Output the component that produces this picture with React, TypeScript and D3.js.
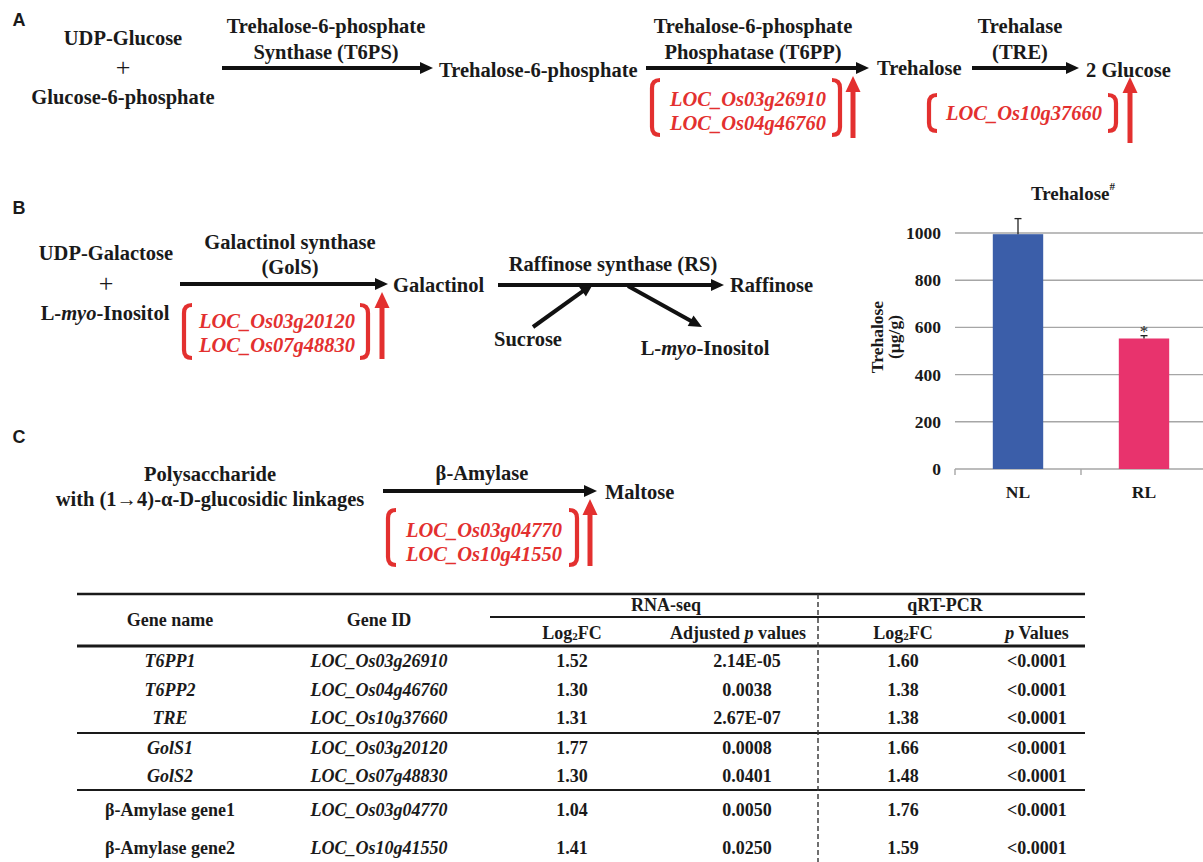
import React from "react";
import * as d3 from "d3";

// ---------- DATA ----------
const substratesA = ["UDP-Glucose", "+", "Glucose-6-phosphate"];
const enzymeT6PS = ["Trehalose-6-phosphate", "Synthase (T6PS)"];
const enzymeT6PP = ["Trehalose-6-phosphate", "Phosphatase (T6PP)"];
const enzymeTRE = ["Trehalase", "(TRE)"];
const productsA = ["Trehalose-6-phosphate", "Trehalose", "2 Glucose"];
const genesT6PP = ["LOC_Os03g26910", "LOC_Os04g46760"];
const genesTRE = ["LOC_Os10g37660"];

const substratesB = ["UDP-Galactose", "+"];
const enzymeGolS = ["Galactinol synthase", "(GolS)"];
const genesGolS = ["LOC_Os03g20120", "LOC_Os07g48830"];
const enzymeRS = "Raffinose synthase (RS)";

const substratesC = ["Polysaccharide", "with (1→4)-α-D-glucosidic linkages"];
const enzymeBAM = "β-Amylase";
const genesBAM = ["LOC_Os03g04770", "LOC_Os10g41550"];

const barCategories = ["NL", "RL"];
const barValues = [995, 553];
const barErrors = [66, 12];
const barColors = ["#3b5ea9", "#e8336d"];
const yTickValues = [0, 200, 400, 600, 800, 1000];

const geneNames = ["T6PP1", "T6PP2", "TRE", "GolS1", "GolS2", "β-Amylase gene1", "β-Amylase gene2"];
const geneItalic = [true, true, true, true, true, false, false];
const geneIds = ["LOC_Os03g26910", "LOC_Os04g46760", "LOC_Os10g37660", "LOC_Os03g20120", "LOC_Os07g48830", "LOC_Os03g04770", "LOC_Os10g41550"];
const rnaLog2FC = ["1.52", "1.30", "1.31", "1.77", "1.30", "1.04", "1.41"];
const rnaAdjP = ["2.14E-05", "0.0038", "2.67E-07", "0.0008", "0.0401", "0.0050", "0.0250"];
const qpcrLog2FC = ["1.60", "1.38", "1.38", "1.66", "1.48", "1.76", "1.59"];
const qpcrP = ["<0.0001", "<0.0001", "<0.0001", "<0.0001", "<0.0001", "<0.0001", "<0.0001"];

// ---------- STYLE / LAYOUT ----------
const W = 1203;
const H = 862;
const RED = "#e3302f";
const SERIF = "'Liberation Serif','Times New Roman',serif";
const SANS = "'Liberation Sans',Arial,sans-serif";
const FS = 20.5;
const TFS = 18;

function T(props: any) {
  const { x, y, children, anchor = "middle", size = FS, italic = false, fill = "#1a1a1a", family = SERIF, weight = "bold" } = props;
  return (
    <text x={x} y={y} textAnchor={anchor} dominantBaseline="central" fontFamily={family}
      fontSize={size} fontWeight={weight} fontStyle={italic ? "italic" : "normal"} fill={fill}>
      {children}
    </text>
  );
}

function Arrow({ x1, y1, x2, y2, color = "#111", width = 4, head = 13, headW = 12 }: any) {
  const a = Math.atan2(y2 - y1, x2 - x1);
  const bx = x2 - head * Math.cos(a);
  const by = y2 - head * Math.sin(a);
  const px = -Math.sin(a) * headW / 2;
  const py = Math.cos(a) * headW / 2;
  const pts: [number, number][] = [[x2, y2], [bx + px, by + py], [bx - px, by - py]];
  const line = d3.line();
  return (
    <g>
      <line x1={x1} y1={y1} x2={bx + Math.cos(a)} y2={by + Math.sin(a)} stroke={color} strokeWidth={width} />
      <path d={line(pts) + "Z"} fill={color} />
    </g>
  );
}

function Bracket({ x, y0, y1, side, w = 8 }: any) {
  const d = d3.path();
  const s = side === "left" ? 1 : -1;
  d.moveTo(x + s * w, y0);
  d.quadraticCurveTo(x, y0, x, y0 + w);
  d.lineTo(x, y1 - w);
  d.quadraticCurveTo(x, y1, x + s * w, y1);
  return <path d={d.toString()} fill="none" stroke={RED} strokeWidth={4.2} />;
}

function GeneBox({ genes, cx, y0, lineGap, bl, br, top, bottom, ax, atop, abottom }: any) {
  return (
    <g>
      <Bracket x={bl} y0={top} y1={bottom} side="left" />
      <Bracket x={br} y0={top} y1={bottom} side="right" />
      {genes.map((g: string, i: number) => (
        <T key={g} x={cx} y={y0 + i * lineGap} italic fill={RED}>{g}</T>
      ))}
      <Arrow x1={ax} y1={abottom} x2={ax} y2={atop} color={RED} width={5} head={16} headW={15} />
    </g>
  );
}

function BarChart() {
  const y = d3.scaleLinear().domain([0, 1000]).range([469, 233]);
  const x = d3.scaleBand().domain(barCategories).range([955, 1207]).paddingInner(0.6).paddingOuter(0.3);
  const step = x.step();
  const grid = "#a6a6a6";
  return (
    <g>
      {yTickValues.map((t) => (
        <g key={t}>
          <line x1={955} x2={W} y1={y(t)} y2={y(t)} stroke={grid} strokeWidth={1.4} />
          <T x={941} y={y(t)} anchor="end" size={17.5}>{t}</T>
        </g>
      ))}
      {barCategories.map((c, i) => (
        <line key={"tk" + c} x1={955 + i * step} x2={955 + i * step} y1={y(0)} y2={y(0) + 6} stroke={grid} strokeWidth={1.4} />
      ))}
      {barCategories.map((c, i) => {
        const cx = (x(c) as number) + x.bandwidth() / 2;
        const top = y(barValues[i]);
        const et = y(barValues[i] + barErrors[i]);
        return (
          <g key={c}>
            <rect x={x(c)} y={top} width={x.bandwidth()} height={y(0) - top} fill={barColors[i]} />
            <line x1={cx} x2={cx} y1={top} y2={et} stroke="#222" strokeWidth={1.3} />
            <line x1={cx - 3.5} x2={cx + 3.5} y1={et} y2={et} stroke="#222" strokeWidth={1.3} />
            <T x={cx} y={492} size={17.5}>{c}</T>
          </g>
        );
      })}
      <text x={(x("RL") as number) + x.bandwidth() / 2} y={y(barValues[1] + barErrors[1]) + 1}
        textAnchor="middle" fontFamily={SERIF} fontSize={17} fill="#222">*</text>
      <text x={1073} y={193} textAnchor="middle" dominantBaseline="central" fontFamily={SERIF} fontWeight="bold" fontSize={19} fill="#1a1a1a">
        Trehalose<tspan fontSize={11} dy={-7}>#</tspan>
      </text>
      <g transform="translate(877,337) rotate(-90)">
        <T x={0} y={0} size={17.5}>Trehalose</T>
      </g>
      <g transform="translate(894,337) rotate(-90)">
        <T x={0} y={0} size={17.5}>(µg/g)</T>
      </g>
    </g>
  );
}

function Log2FC({ x, y }: any) {
  return (
    <text x={x} y={y} textAnchor="middle" dominantBaseline="central" fontFamily={SERIF} fontWeight="bold" fontSize={TFS} fill="#1a1a1a">
      Log<tspan fontSize={11} dy={3}>2</tspan><tspan dy={-3}>FC</tspan>
    </text>
  );
}

function Table() {
  const L = 77, R = 1085;
  const rowY = [661, 690, 718, 748, 776, 810, 848];
  const cols = { name: 170, id: 379, rfc: 572, rp: 747, qfc: 903, qp: 1037 };
  const ink = "#1a1a1a";
  return (
    <g>
      <line x1={L} x2={R} y1={594} y2={594} stroke={ink} strokeWidth={2.4} />
      <line x1={490} x2={R} y1={617} y2={617} stroke={ink} strokeWidth={2.2} />
      <line x1={L} x2={R} y1={646} y2={646} stroke={ink} strokeWidth={2.8} />
      <line x1={L} x2={R} y1={733} y2={733} stroke={ink} strokeWidth={2.2} />
      <line x1={L} x2={R} y1={790} y2={790} stroke={ink} strokeWidth={2.2} />
      <line x1={818} x2={818} y1={594} y2={H} stroke="#333" strokeWidth={1.4} strokeDasharray="5,3" />
      <T x={cols.name} y={620} size={TFS}>Gene name</T>
      <T x={cols.id} y={620} size={TFS}>Gene ID</T>
      <T x={666} y={605} size={TFS}>RNA-seq</T>
      <T x={945} y={605} size={TFS}>qRT-PCR</T>
      <Log2FC x={cols.rfc} y={633} />
      <text x={738} y={633} textAnchor="middle" dominantBaseline="central" fontFamily={SERIF} fontWeight="bold" fontSize={TFS} fill={ink}>
        Adjusted <tspan fontStyle="italic">p</tspan> values
      </text>
      <Log2FC x={cols.qfc} y={633} />
      <text x={cols.qp} y={633} textAnchor="middle" dominantBaseline="central" fontFamily={SERIF} fontWeight="bold" fontSize={TFS} fill={ink}>
        <tspan fontStyle="italic">p</tspan> Values
      </text>
      {geneNames.map((g, i) => (
        <g key={g}>
          <T x={cols.name} y={rowY[i]} size={TFS} italic={geneItalic[i]}>{g}</T>
          <T x={cols.id} y={rowY[i]} size={TFS} italic>{geneIds[i]}</T>
          <T x={cols.rfc} y={rowY[i]} size={TFS}>{rnaLog2FC[i]}</T>
          <T x={cols.rp} y={rowY[i]} size={TFS}>{rnaAdjP[i]}</T>
          <T x={cols.qfc} y={rowY[i]} size={TFS}>{qpcrLog2FC[i]}</T>
          <T x={cols.qp} y={rowY[i]} size={TFS}>{qpcrP[i]}</T>
        </g>
      ))}
    </g>
  );
}

export default function App() {
  return (
    <svg width={W} height={H} viewBox={`0 0 ${W} ${H}`} style={{ position: "absolute", left: 0, top: 0, background: "#fff" }}>
      <rect width={W} height={H} fill="#fff" />
      {/* Panel A */}
      <T x={19} y={20} family={SANS} size={18} anchor="middle">A</T>
      {substratesA.map((s, i) => (
        <T key={s} x={123} y={38 + i * 29.5} size={s === "+" ? 26 : FS} weight={s === "+" ? "normal" : "bold"}>{s}</T>
      ))}
      <Arrow x1={222} y1={68} x2={433} y2={68} />
      {enzymeT6PS.map((s, i) => <T key={s} x={326} y={26 + i * 26} >{s}</T>)}
      <T x={439} y={70} anchor="start">{productsA[0]}</T>
      <Arrow x1={646} y1={68} x2={869} y2={68} />
      {enzymeT6PP.map((s, i) => <T key={s + i} x={753} y={26 + i * 26}>{s}</T>)}
      <GeneBox genes={genesT6PP} cx={748} y0={99} lineGap={24} bl={652} br={840} top={80} bottom={135} ax={853} atop={76} abottom={138} />
      <T x={877} y={68} anchor="start">{productsA[1]}</T>
      <Arrow x1={972} y1={68} x2={1079} y2={68} />
      {enzymeTRE.map((s, i) => <T key={s} x={1020} y={26 + i * 26}>{s}</T>)}
      <T x={1086} y={70} anchor="start">{productsA[2]}</T>
      <GeneBox genes={genesTRE} cx={1024} y0={113} lineGap={24} bl={929} br={1116} top={95} bottom={131} ax={1130} atop={77} abottom={143} />

      {/* Panel B */}
      <T x={19} y={208} family={SANS} size={18}>B</T>
      {substratesB.map((s, i) => (
        <T key={s} x={106} y={253 + i * 30} size={s === "+" ? 26 : FS} weight={s === "+" ? "normal" : "bold"}>{s}</T>
      ))}
      <text x={105} y={313} textAnchor="middle" dominantBaseline="central" fontFamily={SERIF} fontWeight="bold" fontSize={FS} fill="#1a1a1a">
        L-<tspan fontStyle="italic">myo</tspan>-Inositol
      </text>
      <Arrow x1={180} y1={284} x2={388} y2={284} />
      {enzymeGolS.map((s, i) => <T key={s} x={290} y={242 + i * 25}>{s}</T>)}
      <T x={393} y={285} anchor="start">Galactinol</T>
      <GeneBox genes={genesGolS} cx={277} y0={321} lineGap={24} bl={184} br={368} top={305} bottom={358} ax={382} atop={292} abottom={359} />
      <Arrow x1={498} y1={285} x2={724} y2={285} />
      <T x={613} y={264}>{enzymeRS}</T>
      <T x={730} y={285} anchor="start">Raffinose</T>
      <Arrow x1={533} y1={327} x2={593} y2={284} />
      <T x={528} y={339}>Sucrose</T>
      <Arrow x1={628} y1={286} x2={702} y2={327} />
      <text x={705} y={348} textAnchor="middle" dominantBaseline="central" fontFamily={SERIF} fontWeight="bold" fontSize={FS} fill="#1a1a1a">
        L-<tspan fontStyle="italic">myo</tspan>-Inositol
      </text>

      <BarChart />

      {/* Panel C */}
      <T x={19} y={437} family={SANS} size={18}>C</T>
      {substratesC.map((s, i) => <T key={s} x={210} y={474 + i * 25}>{s}</T>)}
      <Arrow x1={383} y1={491} x2={597} y2={491} />
      <T x={482} y={473}>{enzymeBAM}</T>
      <T x={605} y={492} anchor="start">Maltose</T>
      <GeneBox genes={genesBAM} cx={484} y0={530} lineGap={24} bl={388} br={577} top={510} bottom={565} ax={590} atop={499} abottom={566} />

      <Table />
    </svg>
  );
}
